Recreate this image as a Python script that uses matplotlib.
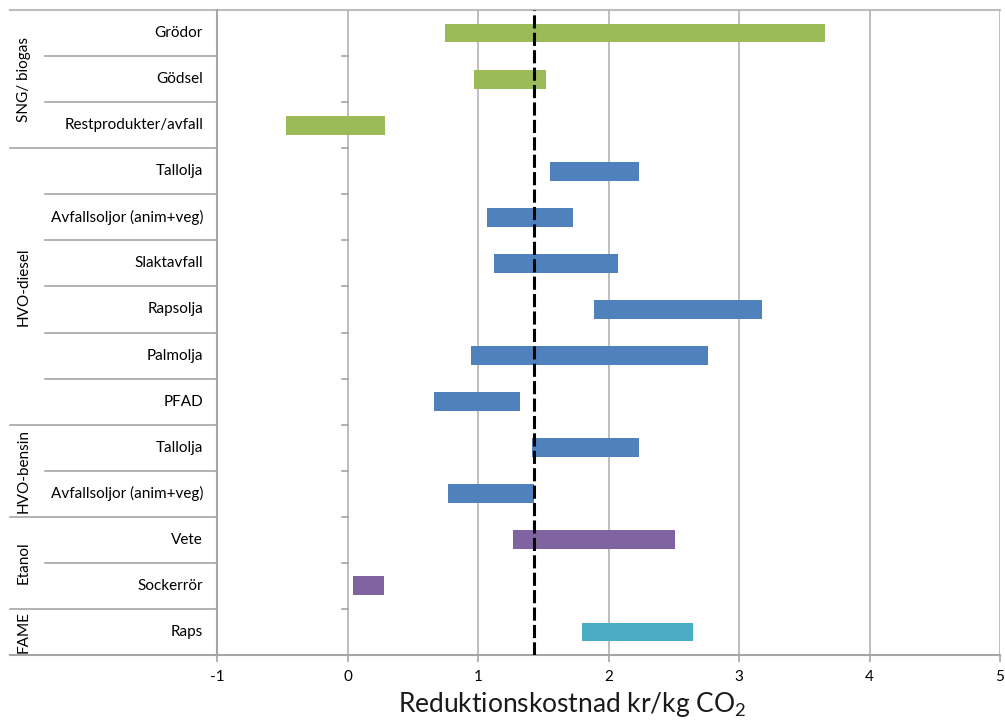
import matplotlib
matplotlib.use("Agg")
import matplotlib.pyplot as plt

groups = ["SNG/ biogas", "HVO-diesel", "HVO-bensin", "Etanol", "FAME"]
group_sizes = [3, 6, 2, 2, 1]
categories = ["Grödor", "Gödsel", "Restprodukter/avfall",
              "Tallolja", "Avfallsoljor (anim+veg)", "Slaktavfall", "Rapsolja", "Palmolja", "PFAD",
              "Tallolja", "Avfallsoljor (anim+veg)",
              "Vete", "Sockerrör",
              "Raps"]
low = [0.75, 0.97, -0.475, 1.55, 1.07, 1.12, 1.89, 0.95, 0.66, 1.41, 0.77, 1.27, 0.04, 1.80]
high = [3.66, 1.52, 0.29, 2.23, 1.73, 2.07, 3.18, 2.76, 1.32, 2.23, 1.43, 2.51, 0.28, 2.65]
group_colors = ["#9BBB59", "#4F81BD", "#4F81BD", "#8064A2", "#4BACC6"]
reference_value = 1.43
xticks = [-1, 0, 1, 2, 3, 4, 5]

plt.rcParams['font.family'] = ['Lato', 'DejaVu Sans']

fig = plt.figure(figsize=(10.05, 7.24), dpi=100)
ax = fig.add_axes([217/1005, 1-655/724, 783/1005, 645/724])

n = len(categories)
colors = []
for g, s in enumerate(group_sizes):
    colors += [group_colors[g]] * s

ys = list(range(n))
widths = [h - l for l, h in zip(low, high)]
ax.barh(ys, widths, left=low, height=0.41, color=colors, zorder=3)
ax.set_ylim(n - 0.5, -0.5)
ax.set_xlim(-1, 5)
ax.set_xticks(xticks)
ax.set_xticklabels([str(t) for t in xticks], fontsize=11)
ax.grid(axis='x', color='#B3B3B3', linewidth=1.2, zorder=0)
ax.set_yticks([])
for sp in ['top', 'right']:
    ax.spines[sp].set_visible(False)
for sp in ['left', 'bottom']:
    ax.spines[sp].set_color('#A6A6A6')
    ax.spines[sp].set_linewidth(1.5)
ax.tick_params(axis='x', colors='#A6A6A6', length=5, width=1.2, labelcolor='black', pad=6)

# tiny ticks at x=0 between rows
for b in range(1, n):
    ax.plot([-0.04, 0.0], [b - 0.5, b - 0.5], color='#A6A6A6', lw=1.2, zorder=2, clip_on=False)

ax.axvline(reference_value, color='black', lw=2.2, dashes=(4.3, 1.4), zorder=4)

ax.set_xlabel(r"Reduktionskostnad kr/kg CO$_\mathregular{2}$", fontsize=19, color='#1a1a1a', labelpad=6)
ax.xaxis.set_label_coords((572 - 217) / 783, -0.055, transform=ax.transAxes)
ax.xaxis.label.set_va('top')

trans = ax.get_yaxis_transform()

def fx(px):
    return (px - 217) / 783.0

# top line
ax.plot([fx(10), 1.0], [-0.5, -0.5], transform=trans, color='#BDBDBD', lw=1.5, clip_on=False, zorder=1)
# bottom line extension
ax.plot([fx(10), 0], [n - 0.5, n - 0.5], transform=trans, color='#A6A6A6', lw=1.5, clip_on=False)

boundaries = []
acc = 0
for s in group_sizes:
    acc += s
    boundaries.append(acc)
for b in range(1, n):
    start = fx(10) if b in boundaries else fx(45)
    ax.plot([start, 0], [b - 0.5, b - 0.5], transform=trans, color='#A6A6A6', lw=1.2, clip_on=False)

for i, c in enumerate(categories):
    ax.text(fx(203), i, c, transform=trans, ha='right', va='center', fontsize=11)

start = 0
for g, s in zip(groups, group_sizes):
    center = start + (s - 1) / 2
    ax.text(fx(24), center, g, transform=trans, ha='center', va='center', rotation=90, fontsize=11)
    start += s

fig.savefig("out.png", dpi=100)
